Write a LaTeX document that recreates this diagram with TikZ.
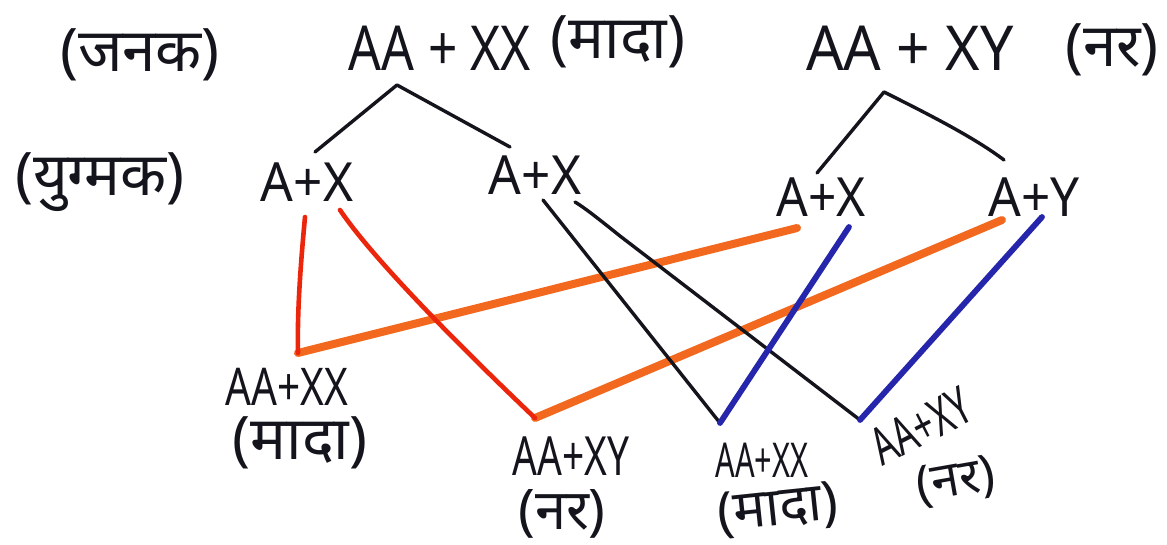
\documentclass[tikz,border=0pt]{standalone}
\usepackage{fontspec}
\usepackage{graphicx}
\setmainfont{Noto Sans}
\newfontfamily\hin[Script=Devanagari]{Noto Sans}
\definecolor{inkblack}{RGB}{20,20,28}
\definecolor{redpen}{RGB}{236,38,12}
\definecolor{orangepen}{RGB}{242,104,30}
\definecolor{bluepen}{RGB}{38,38,172}
\newcommand{\nsz}[1]{\fontsize{#1}{#1}\selectfont}
\newcommand{\narrow}[2]{\scalebox{#1}[1]{#2}}
\begin{document}
\begin{tikzpicture}[x=0.5pt,y=-0.5pt,
  lbl/.style={inner sep=0pt, text=inkblack},
  tree/.style={line width=1.7pt, line cap=round, line join=round, draw=inkblack},
  redl/.style={line width=2.3pt, line cap=round, line join=round, draw=redpen},
  orangel/.style={line width=4pt, line cap=round, line join=round, draw=orangepen},
  bluel/.style={line width=2.9pt, line cap=round, line join=round, draw=bluepen},
  blackl/.style={line width=1.7pt, line cap=round, draw=inkblack}]
\useasboundingbox[fill=white] (0,0) rectangle (1167,545);

% row labels
\node[lbl, font=\nsz{30}\hin] (janak) at (140,55) {(जनक)};
\node[lbl, font=\nsz{30}\hin] (yugmak) at (100,182) {(युग्मक)};

% parents
\node[lbl, font=\nsz{31}] (fP) at (440,48) {\narrow{0.83}{AA + XX}};
\node[lbl, font=\nsz{30}\hin] (fS) at (618,42) {(मादा)};
\node[lbl, font=\nsz{31}] (mP) at (910,48) {\narrow{0.95}{AA + XY}};
\node[lbl, font=\nsz{30}\hin] (mS) at (1112,50) {(नर)};

% gametes
\node[lbl, font=\nsz{27}] (g1) at (307,182) {\narrow{0.95}{A+X}};
\node[lbl, font=\nsz{27}] (g2) at (535,175) {\narrow{0.95}{A+X}};
\node[lbl, font=\nsz{27}] (g3) at (821,197) {\narrow{0.92}{A+X}};
\node[lbl, font=\nsz{27}] (g4) at (1034,197) {\narrow{0.95}{A+Y}};

% offspring
\node[lbl, font=\nsz{26}] (o1) at (287,387) {\narrow{0.78}{AA+XX}};
\node[lbl, font=\nsz{30}\hin] (o1s) at (300,443) {(मादा)};
\node[lbl, font=\nsz{27}] (o2) at (571,456) {\narrow{0.72}{AA+XY}};
\node[lbl, font=\nsz{28}\hin] (o2s) at (562,514) {(नर)};
\node[lbl, font=\nsz{24}] (o3) at (762,460) {\narrow{0.64}{AA+XX}};
\node[lbl, font=\nsz{27}\hin, rotate=6] (o3s) at (778,510) {(मादा)};
\node[lbl, font=\nsz{26}, rotate=27] (o4) at (921,426) {\narrow{0.68}{AA+XY}};
\node[lbl, font=\nsz{25}\hin, rotate=10] (o4s) at (956,482) {(नर)};

% parent-to-gamete trees
\coordinate (fTop) at (397,85);
\coordinate (fL) at (315,152);
\coordinate (fR) at (510,147);
\coordinate (mTop) at (884,92);
\coordinate (mL) at (817,173);
\coordinate (mR) at (1004,160);
\draw[tree] (fL) -- (fTop) -- (fR);
\draw[tree] (mL) -- (mTop) .. controls (930,115) and (975,138) .. (mR);

% crossing lines: end points
\coordinate (r1a) at (305,217);
\coordinate (c1) at (298,353);
\coordinate (r2a) at (340,210);
\coordinate (c2) at (535,418);
\coordinate (b1a) at (543,200);
\coordinate (c3) at (720,423);
\coordinate (b2a) at (575,202);
\coordinate (c4) at (860,420);
\coordinate (e1) at (797,228);
\coordinate (e2) at (1002,220);
\coordinate (e3) at (849,227);
\coordinate (e4) at (1042,217);

\draw[orangel] (c1) -- (e1);
\draw[orangel] (c2) -- (e2);
\draw[redl] (r1a) .. controls (301,260) and (297,310) .. (c1);
\draw[redl] (r2a) .. controls (375,262) and (470,356) .. (c2);
\draw[blackl] (b1a) -- (c3);
\draw[blackl] (b2a) .. controls (585,208) and (600,220) .. (620,236) -- (c4);
\draw[bluel] (c3) -- (e3);
\draw[bluel] (c4) -- (e4);
\end{tikzpicture}
\end{document}
